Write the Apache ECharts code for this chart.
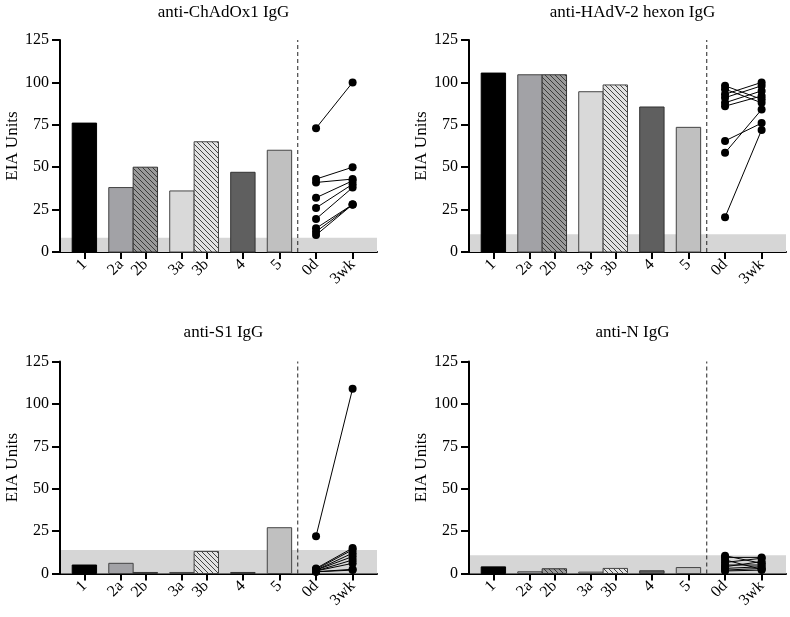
<!DOCTYPE html>
<html><head><meta charset="utf-8">
<script src="https://cdn.jsdelivr.net/npm/echarts@6/dist/echarts.min.js"></script>
<style>html,body{margin:0;padding:0;background:#fff}#c{width:790px;height:617px}</style>
</head><body><div id="c"></div>
<script>
// ---- data ----
const categories = ['1','2a','2b','3a','3b','4','5','0d','3wk'];
const titles = ['anti-ChAdOx1 IgG','anti-HAdV-2 hexon IgG','anti-S1 IgG','anti-N IgG'];
const yName = 'EIA Units';
const yMin = 0, yMax = 125, yStep = 25;

const chadoxBars   = [76, 38, 50, 36, 65, 47, 60];
const chadoxDay0   = [73, 43, 41, 32, 26, 19.5, 14, 12, 10];
const chadoxWk3    = [100, 50, 43, 42, 40, 38, 28, 28, 28];
const chadoxCutoff = 8.4;

const hexonBars   = [105.5, 104.5, 104.5, 94.5, 98.5, 85.5, 73.5];
const hexonDay0   = [98, 96, 93, 91, 88, 86, 65.5, 58.5, 20.5];
const hexonWk3    = [90, 88, 100, 98, 95, 92, 76, 84, 72];
const hexonCutoff = 10.5;

const s1Bars   = [5, 6, 0.6, 0.6, 13, 0.6, 27];
const s1Day0   = [22, 3, 2.5, 2, 2, 1.5, 1.5, 1, 1];
const s1Wk3    = [109, 15, 14, 12, 10, 8, 6, 2.5, 2];
const s1Cutoff = 13.8;

const nBars   = [3.9, 1, 2.8, 0.8, 3, 1.6, 3.5];
const nDay0   = [10.5, 9.5, 8, 6.5, 5, 4, 3, 2, 1.5];
const nWk3    = [6, 9.5, 2.5, 9, 5, 7, 4, 3, 2];
const nCutoff = 10.8;

// ---- layout (axis coordinates of categories) ----
const xPos = [2, 5, 7, 10, 12, 15, 18, 21, 24];
const xMax = 26, sepX = 19.5, barHalf = 1;

const panels = [
  {bars: chadoxBars, d0: chadoxDay0, w3: chadoxWk3, cut: chadoxCutoff},
  {bars: hexonBars,  d0: hexonDay0,  w3: hexonWk3,  cut: hexonCutoff},
  {bars: s1Bars,     d0: s1Day0,     w3: s1Wk3,     cut: s1Cutoff},
  {bars: nBars,      d0: nDay0,      w3: nWk3,      cut: nCutoff}
];
const gridBoxes = [
  {left: 60,  top: 40,    width: 317, height: 212},
  {left: 469, top: 40,    width: 317, height: 212},
  {left: 60,  top: 361.5, width: 317, height: 212},
  {left: 469, top: 361.5, width: 317, height: 212}
];

function hatch(bg, line) {
  const s = 5;
  const c = document.createElement('canvas');
  c.width = c.height = s;
  const g = c.getContext('2d');
  g.fillStyle = bg; g.fillRect(0, 0, s, s);
  g.strokeStyle = line; g.lineWidth = 1;
  g.beginPath();
  g.moveTo(-1, -1); g.lineTo(s + 1, s + 1);
  g.moveTo(-1, s - 1); g.lineTo(1, s + 1);
  g.moveTo(s - 1, -1); g.lineTo(s + 1, 1);
  g.stroke();
  return c;
}
const barFills = [
  '#000000',
  '#a2a2a6',
  {image: hatch('#9a9a9a', '#3a3a3a'), repeat: 'repeat'},
  '#d9d9d9',
  {image: hatch('#e2e2e2', '#444444'), repeat: 'repeat'},
  '#5f5f5f',
  '#c0c0c0'
];
const barStrokes = ['#000', '#444', '#333', '#444', '#444', '#333', '#444'];

const font = 'Liberation Serif';
const option = {
  animation: false,
  backgroundColor: '#fff',
  title: [], grid: [], xAxis: [], yAxis: [], series: []
};

panels.forEach((p, i) => {
  const gb = gridBoxes[i];
  option.title.push({
    text: titles[i], left: gb.left + gb.width / 2, top: i < 2 ? -1 : 319,
    textAlign: 'center',
    textStyle: {fontFamily: font, fontSize: 17, fontWeight: 'normal', color: '#000'}
  });
  option.grid.push(Object.assign({containLabel: false}, gb));
  option.xAxis.push({
    type: 'value', gridIndex: i, min: 0, max: xMax,
    splitLine: {show: false},
    axisLine: {show: true, onZero: false, lineStyle: {color: '#000', width: 2}},
    axisTick: {show: true, customValues: xPos, length: 7, lineStyle: {color: '#000', width: 2}},
    axisLabel: {
      show: true, customValues: xPos, rotate: 45, margin: 10,
      formatter: v => categories[xPos.indexOf(v)],
      fontFamily: font, fontSize: 16, color: '#000'
    }
  });
  option.yAxis.push({
    type: 'value', gridIndex: i, min: yMin, max: yMax, interval: yStep,
    name: yName, nameLocation: 'middle', nameGap: 37,
    nameTextStyle: {fontFamily: font, fontSize: 17, color: '#000'},
    splitLine: {show: false},
    axisLine: {show: true, lineStyle: {color: '#000', width: 2}},
    axisTick: {show: true, length: 8, lineStyle: {color: '#000', width: 2}},
    axisLabel: {fontFamily: font, fontSize: 16, color: '#000', margin: 11}
  });
  // cutoff band
  option.series.push({
    type: 'custom', xAxisIndex: i, yAxisIndex: i, z: 1, silent: true,
    data: [[p.cut]],
    renderItem: (params, api) => {
      const a = api.coord([0, api.value(0)]);
      const b = api.coord([xMax, 0]);
      return {type: 'rect', shape: {x: a[0] + 1, y: a[1], width: b[0] - a[0] - 1, height: b[1] - a[1]},
        style: {fill: '#d6d6d6'}};
    }
  });
  // bars
  option.series.push({
    type: 'custom', xAxisIndex: i, yAxisIndex: i, z: 3, silent: true,
    data: p.bars.map((v, k) => [xPos[k], v, k]),
    renderItem: (params, api) => {
      const x = api.value(0), v = api.value(1), k = api.value(2);
      const a = api.coord([x - barHalf, v]);
      const b = api.coord([x + barHalf, 0]);
      return {type: 'rect', shape: {x: a[0], y: a[1], width: b[0] - a[0], height: b[1] - a[1]},
        style: {fill: barFills[k], stroke: barStrokes[k], lineWidth: 1}};
    }
  });
  // separator
  option.series.push({
    type: 'line', xAxisIndex: i, yAxisIndex: i, z: 2, silent: true, symbol: 'none',
    data: [[sepX, yMin], [sepX, yMax]],
    lineStyle: {color: '#222', width: 1, type: [4, 3]}
  });
  // paired points
  p.d0.forEach((a, k) => {
    option.series.push({
      type: 'line', xAxisIndex: i, yAxisIndex: i, z: 5, silent: true,
      symbol: 'circle', symbolSize: 8,
      itemStyle: {color: '#000'},
      lineStyle: {color: '#000', width: 1},
      data: [[xPos[7], a], [xPos[8], p.w3[k]]]
    });
  });
});

const chart = echarts.init(document.getElementById('c'), null, {renderer: 'canvas'});
chart.setOption(option);
</script>
</body></html>
